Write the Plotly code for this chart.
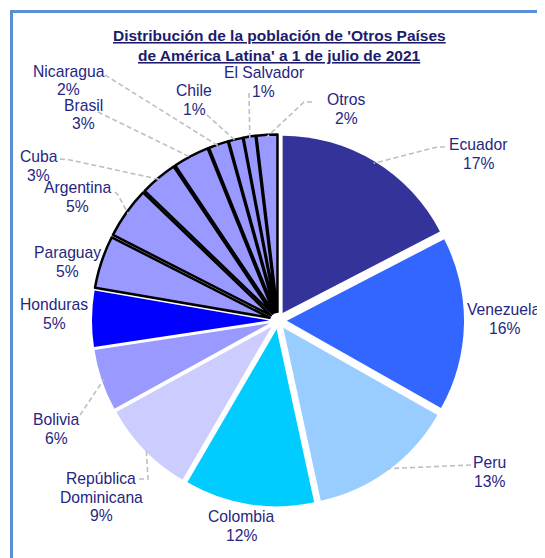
import math
import plotly.graph_objects as go

# data
countries = ['Ecuador', 'Venezuela', 'Peru', 'Colombia', 'República Dominicana', 'Bolivia',
             'Honduras', 'Paraguay', 'Argentina', 'Cuba', 'Brasil', 'Nicaragua', 'Chile',
             'El Salvador', 'Otros']
shares = [17.4, 15.8, 13.4, 11.8, 8.6, 5.6, 5.1, 4.8, 4.7, 3.4, 3.3, 1.8, 1.3, 1.1, 1.9]

colors = ['#333399', '#3366FF', '#99CCFF', '#00CCFF', '#CCCCFF', '#9999FF', '#0000FF',
          '#9999FF', '#9999FF', '#9999FF', '#9999FF', '#9999FF', '#9999FF', '#9999FF', '#9999FF']
edge_col = ['white'] * 7 + ['black'] * 8
edge_w = [0] * 7 + [2.5] * 8

# the page body has an 8px margin, so the figure is drawn from (8, 8)
OFF = 8
W, H = 545 - OFF, 558 - OFF
cx, cy, D = 278, 320.5, 372
pull = 0.05
label_col = '#262680'
font = 'Arial, Liberation Sans, sans-serif'

# label placement (window pixel centre of text block) and leader waypoints
label_pos = {
    'Ecuador': (478, 154), 'Venezuela': (504, 319), 'Peru': (489, 472), 'Colombia': (241, 526),
    'República Dominicana': (101, 497), 'Bolivia': (56, 429), 'Honduras': (54, 314),
    'Paraguay': (67, 262), 'Argentina': (77, 197), 'Cuba': (38.5, 166), 'Brasil': (83, 114.5),
    'Nicaragua': (68.5, 80.5), 'Chile': (194, 100), 'El Salvador': (263.5, 82), 'Otros': (346, 109),
}
leaders = {
    'Ecuador': [(445, 147), (437, 147)], 'Peru': [(471, 465)],
    'República Dominicana': [(139, 479), (148, 479)], 'Bolivia': [(80, 415)],
    'Argentina': [(115, 192), (118, 195)], 'Cuba': [(60, 159), (70, 160)],
    'Brasil': [(98, 112)], 'Nicaragua': [(105, 75)], 'Chile': [(207, 115)],
    'El Salvador': [(249, 93)], 'Otros': [(312, 102), (304, 102)],
}
wrap = {'República Dominicana': ['República', 'Dominicana']}


def px2paper(x, y):
    return (x - OFF) / W, 1 - (y - OFF) / H


fig = go.Figure(go.Pie(
    labels=countries, values=shares, sort=False, direction='clockwise', rotation=0,
    pull=[pull] * len(shares), textinfo='none', hoverinfo='label+percent',
    marker=dict(colors=colors, line=dict(color=edge_col, width=edge_w)),
    domain=dict(x=[(cx - OFF - D / 2) / W, (cx - OFF + D / 2) / W],
                y=[1 - (cy - OFF + D / 2) / H, 1 - (cy - OFF - D / 2) / H]),
    showlegend=False,
))

total = sum(shares)
annotations = []
shapes = []
cum = 0
for name, v in zip(countries, shares):
    mid = (cum + v / 2) / total * 2 * math.pi
    cum += v
    pct = f'{round(v / total * 100)}%'
    lines = wrap.get(name, [name]) + [pct]
    lx, ly = label_pos[name]
    for k, t in enumerate(lines):
        yy = ly + (k - (len(lines) - 1) / 2) * 18.3
        px_, py_ = px2paper(lx, yy)
        annotations.append(dict(x=px_, y=py_, xref='paper', yref='paper', text=t,
                                showarrow=False, xanchor='center', yanchor='middle',
                                font=dict(family=font, size=15.7, color=label_col)))
    if name in leaders:
        rr = D / 2 - 2
        ax, ay = cx + rr * math.sin(mid), cy - rr * math.cos(mid)
        pts = leaders[name] + [(ax, ay)]
        path = ''
        for j, (x, y) in enumerate(pts):
            px_, py_ = px2paper(x, y)
            path += ('M' if j == 0 else 'L') + f' {px_:.5f} {py_:.5f} '
        shapes.append(dict(type='path', path=path, xref='paper', yref='paper',
                           line=dict(color='#BFBFBF', width=1.6, dash='5px,3px')))

# title
for k, t in enumerate(["Distribución de la población de 'Otros Países",
                       "de América Latina' a 1 de julio de 2021"]):
    px_, py_ = px2paper(279, 35.5 + k * 19.5)
    annotations.append(dict(x=px_, y=py_, xref='paper', yref='paper',
                            text=f'<b><u>{t}</u></b>', showarrow=False,
                            xanchor='center', yanchor='middle',
                            font=dict(family=font, size=15.5, color='#1c1c6b')))

# outer frame
x0, y1 = px2paper(11.5, 11.5)
shapes.append(dict(type='rect', xref='paper', yref='paper',
                   x0=x0, x1=1.1, y0=-0.1, y1=y1,
                   line=dict(color='#5B8ED6', width=3)))

fig.update_layout(
    width=W, height=H, margin=dict(l=0, r=0, t=0, b=0),
    paper_bgcolor='white', plot_bgcolor='white',
    annotations=annotations, shapes=shapes,
)

fig.write_html('out.html')
